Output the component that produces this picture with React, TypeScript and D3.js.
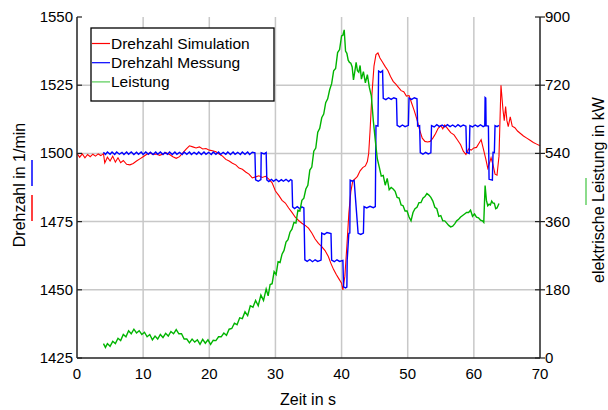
import React from "react";
import * as d3 from "d3";

const xTicks = [0, 10, 20, 30, 40, 50, 60, 70];
const leftTicks = [1425, 1450, 1475, 1500, 1525, 1550];
const rightTicks = [0, 180, 360, 540, 720, 900];
const legendLabels = ["Drehzahl Simulation", "Drehzahl Messung", "Leistung"];
const seriesColors = ["#ff0000", "#0000ff", "#00b400"];

// Drehzahl Simulation [s, 1/min]
const drehzahlSimulation: [number, number][] = [
  [0.0, 1500.0], [0.4, 1498.6], [0.8, 1499.8], [1.2, 1498.4], [1.6, 1499.6], [2.0, 1498.8], [2.4, 1499.7],
  [2.8, 1499.0], [3.2, 1499.8], [3.6, 1499.2], [4.0, 1499.9], [4.2, 1496.5], [4.6, 1498.6], [5.0, 1497.2],
  [5.4, 1499.0], [5.8, 1496.8], [6.2, 1498.4], [6.6, 1496.6], [7.0, 1497.4], [7.5, 1496.0], [8.0, 1495.8],
  [8.5, 1496.3], [9.0, 1497.2], [9.5, 1498.0], [10.0, 1498.8], [10.5, 1499.6], [11.0, 1500.2], [11.5, 1499.6],
  [12.0, 1499.8], [12.5, 1499.3], [13.0, 1499.8], [13.5, 1500.2], [14.0, 1499.6], [14.5, 1498.8], [15.0, 1498.2],
  [15.5, 1498.8], [16.0, 1500.2], [16.5, 1501.6], [17.0, 1502.8], [17.5, 1502.4], [18.0, 1502.0], [18.5, 1502.4],
  [19.0, 1501.6], [19.5, 1501.8], [20.0, 1501.2], [20.5, 1501.0], [21.0, 1500.6], [21.5, 1499.8], [22.0, 1499.0],
  [22.5, 1497.8], [23.0, 1497.2], [23.5, 1496.4], [24.0, 1495.8], [24.5, 1494.6], [25.0, 1494.2], [25.5, 1493.2],
  [26.0, 1492.4], [26.5, 1491.0], [27.0, 1491.4], [27.5, 1491.8], [28.0, 1491.2], [28.5, 1491.6], [29.0, 1490.6],
  [29.5, 1489.2], [30.0, 1486.2], [30.5, 1484.6], [31.0, 1482.8], [31.5, 1481.8], [32.0, 1480.0], [32.5, 1478.4],
  [33.0, 1476.6], [33.5, 1475.4], [34.0, 1474.4], [34.5, 1473.6], [35.0, 1472.6], [35.5, 1470.8], [36.0, 1468.6],
  [36.5, 1467.0], [37.0, 1465.8], [37.5, 1464.4], [38.0, 1462.2], [38.4, 1459.6], [38.8, 1457.4], [39.2, 1455.6],
  [39.6, 1454.0], [40.0, 1452.4], [40.2, 1450.0], [40.5, 1455.0], [40.8, 1466.0], [41.1, 1478.0], [41.4, 1486.0],
  [41.7, 1490.0], [42.0, 1490.6], [42.4, 1491.6], [42.8, 1493.6], [43.2, 1494.8], [43.6, 1495.4], [43.9, 1497.0],
  [44.1, 1500.0], [44.3, 1508.0], [44.6, 1522.0], [44.9, 1532.0], [45.2, 1536.2], [45.5, 1536.8], [45.8, 1535.0],
  [46.2, 1533.4], [46.6, 1531.8], [47.0, 1530.4], [47.4, 1528.2], [47.8, 1526.4], [48.2, 1525.4], [48.6, 1524.2],
  [49.0, 1523.0], [49.4, 1522.6], [49.8, 1521.0], [50.2, 1521.2], [50.6, 1518.4], [51.0, 1515.6], [51.4, 1512.4],
  [51.8, 1508.6], [52.2, 1505.6], [52.6, 1504.4], [53.0, 1504.2], [53.4, 1504.4], [53.8, 1505.6], [54.2, 1507.2],
  [54.6, 1509.2], [55.0, 1510.2], [55.3, 1509.0], [55.6, 1510.4], [56.0, 1509.2], [56.5, 1507.6], [57.0, 1506.8],
  [57.5, 1505.0], [58.0, 1503.2], [58.4, 1500.8], [58.8, 1499.6], [59.2, 1501.6], [59.6, 1501.2], [60.0, 1502.0],
  [60.4, 1502.2], [60.8, 1503.8], [61.1, 1505.0], [61.4, 1502.0], [61.8, 1498.0], [62.1, 1494.6], [62.3, 1496.0],
  [62.6, 1498.4], [62.9, 1495.8], [63.2, 1492.4], [63.5, 1492.0], [63.8, 1499.0], [64.1, 1525.0], [64.4, 1516.0],
  [64.6, 1512.0], [64.8, 1517.2], [65.0, 1512.0], [65.2, 1509.8], [65.5, 1513.4], [65.8, 1510.0], [66.2, 1509.4],
  [66.6, 1508.2], [67.0, 1507.4], [67.5, 1506.4], [68.0, 1505.6], [68.5, 1504.8], [69.0, 1504.0], [69.5, 1503.4],
  [70.0, 1502.8],
];

// Drehzahl Messung [s, 1/min]
const drehzahlMessung: [number, number][] = [
  [4.0, 1500.4], [4.3, 1499.6], [4.6, 1500.5], [5.0, 1499.7], [5.3, 1500.5], [5.7, 1499.6], [6.0, 1500.5],
  [6.4, 1499.7], [6.8, 1500.4], [7.1, 1499.6], [7.5, 1500.5], [7.8, 1499.7], [8.2, 1500.5], [8.6, 1499.6],
  [9.0, 1500.4], [9.3, 1499.7], [9.7, 1500.5], [10.0, 1499.6], [10.4, 1500.5], [10.8, 1499.7], [11.1, 1500.4],
  [11.5, 1499.6], [11.9, 1500.5], [12.2, 1499.7], [12.6, 1500.5], [13.0, 1499.6], [13.3, 1500.4], [13.7, 1499.7],
  [14.0, 1500.5], [14.4, 1499.6], [14.8, 1500.5], [15.1, 1499.7], [15.5, 1500.4], [15.9, 1499.6], [16.2, 1500.5],
  [16.6, 1499.7], [17.0, 1500.5], [17.3, 1499.6], [17.7, 1500.4], [18.1, 1499.7], [18.4, 1500.5], [18.8, 1499.6],
  [19.2, 1500.5], [19.5, 1499.7], [19.9, 1500.4], [20.3, 1499.6], [20.6, 1500.5], [21.0, 1499.7], [21.4, 1500.5],
  [21.7, 1499.6], [22.1, 1500.4], [22.5, 1499.7], [22.8, 1500.5], [23.2, 1499.6], [23.6, 1500.5], [23.9, 1499.7],
  [24.3, 1500.4], [24.7, 1499.6], [25.0, 1500.5], [25.4, 1499.7], [25.8, 1500.5], [26.1, 1499.6], [26.5, 1500.4],
  [26.9, 1500.2],
  [27.0, 1490.3], [27.4, 1489.8], [27.8, 1490.4], [27.85, 1500.2], [28.3, 1499.8], [28.6, 1500.3],
  [28.7, 1490.3], [29.0, 1489.7], [29.4, 1490.5], [29.7, 1489.8], [30.1, 1490.5], [30.5, 1489.7], [30.9, 1490.4],
  [31.2, 1489.8], [31.6, 1490.5], [32.0, 1489.7], [32.3, 1490.4], [32.5, 1490.1],
  [32.6, 1480.4], [32.9, 1479.8], [33.3, 1480.5], [33.7, 1479.7], [34.0, 1480.4], [34.3, 1480.0],
  [34.45, 1461.0], [34.8, 1460.4], [35.2, 1461.1], [35.6, 1460.3], [36.0, 1461.0], [36.4, 1460.4], [36.9, 1460.9],
  [37.0, 1470.8], [37.4, 1470.3], [37.8, 1471.0], [38.4, 1470.6],
  [38.5, 1460.9], [38.9, 1460.3], [39.3, 1461.0], [39.7, 1460.4], [40.2, 1460.8],
  [40.3, 1451.1], [40.6, 1450.7], [40.8, 1451.0],
  [40.85, 1460.9], [41.1, 1470.7], [41.25, 1470.8],
  [41.3, 1490.2], [41.6, 1489.8], [41.9, 1490.1],
  [42.5, 1470.7], [42.9, 1470.3], [43.3, 1470.8],
  [43.4, 1480.5], [43.8, 1480.0], [44.3, 1480.6], [44.8, 1480.1], [45.1, 1480.5],
  [45.2, 1510.2], [45.5, 1510.0],
  [45.6, 1530.2], [45.9, 1529.7], [46.2, 1530.3],
  [46.3, 1520.2], [46.7, 1519.7], [47.1, 1520.4], [47.5, 1519.8], [47.9, 1520.4], [48.3, 1520.0],
  [48.4, 1510.3], [48.8, 1509.7], [49.2, 1510.4], [49.6, 1509.8], [50.1, 1510.3],
  [50.2, 1520.3], [50.6, 1519.8], [51.0, 1520.4], [51.4, 1520.0],
  [51.5, 1510.0], [51.8, 1510.2],
  [51.9, 1500.3], [52.3, 1499.7], [52.7, 1500.4], [53.1, 1499.8], [53.5, 1500.2],
  [53.6, 1510.2], [54.0, 1509.7], [54.4, 1510.5], [54.8, 1509.8], [55.2, 1510.4], [55.6, 1509.7], [56.0, 1510.5],
  [56.4, 1509.8], [56.8, 1510.4], [57.2, 1509.7], [57.6, 1510.5], [58.0, 1509.8], [58.4, 1510.4], [58.8, 1510.0],
  [58.9, 1500.4], [59.3, 1500.0],
  [59.4, 1510.2], [59.8, 1509.7], [60.2, 1510.4], [60.6, 1509.8], [61.0, 1510.5], [61.4, 1509.8], [61.65, 1510.1],
  [61.7, 1520.5], [61.8, 1520.3], [61.85, 1510.2], [62.2, 1510.0],
  [62.3, 1490.5], [62.8, 1490.2],
  [62.9, 1500.4], [63.1, 1500.3],
  [63.2, 1510.2], [63.5, 1509.8], [63.8, 1510.3],
];

// Leistung [s, kW]
const leistung: [number, number][] = [
  [4.0, 38], [4.3, 28], [4.6, 38], [5.0, 31], [5.4, 44], [5.8, 38], [6.2, 52], [6.6, 46], [7.0, 62], [7.4, 56],
  [7.8, 72], [8.2, 64], [8.6, 76], [9.0, 66], [9.4, 72], [9.8, 62], [10.2, 68], [10.6, 56], [11.0, 62], [11.4, 48],
  [11.8, 58], [12.2, 50], [12.6, 62], [13.0, 54], [13.4, 65], [13.8, 58], [14.2, 70], [14.6, 64], [15.0, 75],
  [15.4, 64], [15.8, 64], [16.2, 50], [16.6, 50], [17.0, 40], [17.4, 50], [17.8, 42], [18.2, 48], [18.6, 36],
  [19.0, 49], [19.4, 39], [19.8, 48], [20.2, 36], [20.6, 47], [21.0, 46], [21.4, 56], [21.8, 56], [22.2, 66],
  [22.6, 60], [23.0, 76], [23.4, 78], [23.8, 92], [24.2, 88], [24.6, 106], [25.0, 104], [25.4, 122], [25.8, 112],
  [26.2, 138], [26.6, 134], [27.0, 152], [27.4, 138], [27.8, 166], [28.2, 152], [28.6, 182], [28.9, 164],
  [29.2, 194], [29.5, 196], [29.8, 228], [30.1, 220], [30.4, 254], [30.7, 252], [31.0, 274], [31.3, 284],
  [31.6, 306], [31.9, 312], [32.2, 332], [32.5, 340], [32.8, 358], [33.1, 356], [33.4, 390], [33.7, 388],
  [34.0, 416], [34.3, 422], [34.6, 446], [34.9, 456], [35.2, 496], [35.5, 504], [35.8, 546], [36.1, 554],
  [36.4, 596], [36.7, 606], [37.0, 634], [37.3, 644], [37.6, 674], [37.9, 684], [38.2, 708], [38.5, 724],
  [38.8, 758], [39.1, 764], [39.4, 806], [39.7, 814], [40.0, 850], [40.2, 852], [40.4, 866], [40.6, 810],
  [40.8, 804], [41.0, 786], [41.2, 780], [41.4, 778], [41.6, 768], [41.8, 734], [42.0, 756], [42.2, 780],
  [42.4, 758], [42.6, 754], [42.8, 772], [43.0, 736], [43.3, 756], [43.6, 726], [43.9, 748], [44.2, 714],
  [44.5, 692], [44.8, 626], [45.1, 574], [45.4, 526], [45.7, 504], [46.0, 480], [46.3, 482], [46.6, 456],
  [46.9, 474], [47.2, 444], [47.5, 450], [47.8, 446], [48.1, 440], [48.4, 424], [48.7, 422], [49.0, 404],
  [49.3, 402], [49.6, 388], [49.9, 388], [50.2, 372], [50.5, 362], [50.8, 384], [51.1, 394], [51.4, 398],
  [51.7, 410], [52.0, 410], [52.3, 422], [52.6, 426], [52.9, 434], [53.2, 430], [53.5, 424], [53.8, 414],
  [54.1, 398], [54.4, 394], [54.7, 374], [55.0, 376], [55.3, 362], [55.6, 362], [55.9, 356], [56.2, 350],
  [56.5, 346], [56.8, 348], [57.1, 354], [57.4, 362], [57.7, 366], [58.0, 372], [58.3, 376], [58.6, 380],
  [58.9, 384], [59.2, 384], [59.5, 390], [59.8, 374], [60.1, 380], [60.4, 372], [60.7, 370], [61.0, 364],
  [61.3, 362], [61.5, 358], [61.7, 455], [61.9, 416], [62.1, 402], [62.3, 406], [62.5, 404], [62.7, 414],
  [62.9, 409], [63.1, 408], [63.3, 394], [63.5, 396], [63.8, 408],
];

const FONT = "'Liberation Sans', Arial, sans-serif";

export default function App() {
  const left = 77, right = 540, top = 17, bottom = 358;
  const x = d3.scaleLinear().domain([0, 70]).range([left, right]);
  const yL = d3.scaleLinear().domain([1425, 1550]).range([bottom, top]);
  const yR = d3.scaleLinear().domain([0, 900]).range([bottom, top]);

  const lineL = d3.line<[number, number]>().x((d) => x(d[0])).y((d) => yL(d[1]));
  const lineR = d3.line<[number, number]>().x((d) => x(d[0])).y((d) => yR(d[1]));

  const axisColor = "#222";
  const gridColor = "#c8c8c8";

  return (
    <svg width={608} height={410} style={{ position: "absolute", left: 0, top: 0, background: "#fff" }} fontFamily={FONT}>
      <rect x={0} y={0} width={608} height={410} fill="#fff" />
      {/* grid */}
      {xTicks.filter((t) => t > 0 && t < 70).map((t) => (
        <line key={"gx" + t} x1={x(t)} x2={x(t)} y1={top} y2={bottom} stroke={gridColor} strokeWidth={1.5} />
      ))}
      {leftTicks.filter((t) => t > 1425 && t < 1550).map((t) => (
        <line key={"gy" + t} x1={left} x2={right} y1={yL(t)} y2={yL(t)} stroke={gridColor} strokeWidth={1.5} />
      ))}

      {/* series */}
      <path d={lineL(drehzahlSimulation) || ""} fill="none" stroke={seriesColors[0]} strokeWidth={1.1} />
      <path d={lineL(drehzahlMessung) || ""} fill="none" stroke={seriesColors[1]} strokeWidth={1.4} />
      <path d={lineR(leistung) || ""} fill="none" stroke={seriesColors[2]} strokeWidth={1.4} />

      {/* axes */}
      <line x1={left} x2={left} y1={top} y2={bottom} stroke={axisColor} strokeWidth={1.5} />
      <line x1={right} x2={right} y1={top} y2={bottom} stroke={axisColor} strokeWidth={1.5} />
      <line x1={left} x2={right} y1={bottom} y2={bottom} stroke={axisColor} strokeWidth={1.5} />
      {leftTicks.map((t) => (
        <g key={"lt" + t}>
          <line x1={left} x2={left + 5} y1={yL(t)} y2={yL(t)} stroke={axisColor} strokeWidth={1.2} />
          <text x={left - 4} y={yL(t) + 5} textAnchor="end" fontSize={15} fill="#000">{t}</text>
        </g>
      ))}
      {rightTicks.map((t) => (
        <g key={"rt" + t}>
          <line x1={right - 5} x2={right + 5} y1={yR(t)} y2={yR(t)} stroke={axisColor} strokeWidth={1.2} />
          <text x={right + 5} y={yR(t) + 5} textAnchor="start" fontSize={15} fill="#000">{t}</text>
        </g>
      ))}
      {xTicks.map((t) => (
        <text key={"xt" + t} x={x(t)} y={379} textAnchor="middle" fontSize={15} fill="#000">{t}</text>
      ))}

      {/* axis titles */}
      <text x={308} y={405} textAnchor="middle" fontSize={16} fill="#000">Zeit in s</text>
      <text transform="translate(25,185) rotate(-90)" textAnchor="middle" fontSize={16} fill="#000">Drehzahl in 1/min</text>
      <line x1={32} x2={32} y1={160} y2={186} stroke={seriesColors[1]} strokeWidth={1.5} />
      <line x1={32} x2={32} y1={195} y2={221} stroke={seriesColors[0]} strokeWidth={1.5} />
      <text transform="translate(604,190) rotate(-90)" textAnchor="middle" fontSize={16} fill="#000">elektrische Leistung in kW</text>
      <line x1={586} x2={586} y1={178} y2={205} stroke="#66d066" strokeWidth={1.5} />

      {/* legend */}
      <rect x={91} y={28} width={183} height={73} fill="#fff" stroke="#000" strokeWidth={1.3} />
      {legendLabels.map((lab, i) => (
        <g key={lab}>
          <line x1={92} x2={110} y1={43.5 + i * 19.2} y2={43.5 + i * 19.2} stroke={i === 2 ? "#55cc55" : seriesColors[i]} strokeWidth={1.2} />
          <text x={111} y={43.5 + i * 19.2 + 5.5} fontSize={15.5} fill="#000">{lab}</text>
        </g>
      ))}
    </svg>
  );
}
